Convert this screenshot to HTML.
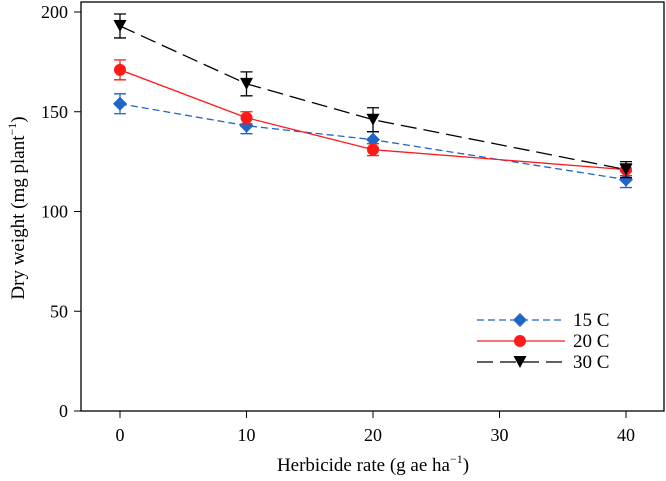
<!DOCTYPE html>
<html><head><meta charset="utf-8"><style>
body{margin:0;background:#fff}
svg text{font-family:"Liberation Serif",serif;fill:#000}
</style></head><body>
<svg id="c" width="666" height="476"></svg>
<script>
const xValues=[0,10,20,40];
const series15=[154,143,136,116];
const err15=[5,4,4,4];
const series20=[171,147,131,121];
const err20=[5,3,3,3];
const series30=[193,164,146,121];
const err30=[6,6,6,4];
const xTicks=[0,10,20,30,40];
const yTicks=[0,50,100,150,200];
const seriesNames=["15 C","20 C","30 C"];

const svg=document.getElementById('c');
const NS='http://www.w3.org/2000/svg';
function X(v){return 120+v*12.65;}
function Y(v){return 411-v*1.995;}
function mk(tag,attrs,parent){const e=document.createElementNS(NS,tag);for(const k in attrs)e.setAttribute(k,attrs[k]);(parent||svg).appendChild(e);return e;}

const frame=mk('rect',{x:81,y:2,width:583,height:409,fill:'none',stroke:'#000','stroke-width':1.3});



xTicks.forEach(t=>{
  const l=mk('line',{x1:X(t),x2:X(t),y1:411,y2:418,stroke:'#000'});
  
  
  const tx=mk('text',{x:X(t),y:441,'text-anchor':'middle','font-size':18});
  tx.textContent=t;
  
  
});
yTicks.forEach(t=>{
  const l=mk('line',{x1:74,x2:81,y1:Y(t),y2:Y(t),stroke:'#000'});
  
  
  const tx=mk('text',{x:68,y:Y(t)+6,'text-anchor':'end','font-size':18});
  tx.textContent=t;
  
  
});
const xt=mk('text',{x:373,y:471,'text-anchor':'middle','font-size':19});
xt.innerHTML='Herbicide rate (g ae ha<tspan dy="-8" font-size="12">−1</tspan><tspan dy="8">)</tspan>';


const yt=mk('text',{x:0,y:0,'text-anchor':'middle','font-size':19,transform:'translate(24,208) rotate(-90)'});
yt.innerHTML='Dry weight (mg plant<tspan dy="-8" font-size="12">−1</tspan><tspan dy="8">)</tspan>';



function marker(type,cx,cy,color,g){
  if(type==='d') return mk('polygon',{points:`${cx},${cy-7} ${cx+7},${cy} ${cx},${cy+7} ${cx-7},${cy}`,fill:color},g);
  if(type==='o') return mk('circle',{cx:cx,cy:cy,r:6,fill:color},g);
  return mk('polygon',{points:`${cx-6.5},${cy-6} ${cx+6.5},${cy-6} ${cx},${cy+6}`,fill:color},g);
}
const defs=[
 {vals:series15,err:err15,color:'#1f66c7',dash:'7,4',m:'d',name:'series-15c'},
 {vals:series20,err:err20,color:'#ff1a1a',dash:'',m:'o',name:'series-20c'},
 {vals:series30,err:err30,color:'#000',dash:'16,7',m:'v',name:'series-30c'}
];
defs.forEach((s,si)=>{
  const g=mk('g',{});
  
  
  const pts=xValues.map((x,i)=>X(x)+','+Y(s.vals[i])).join(' ');
  mk('polyline',{points:pts,fill:'none',stroke:s.color,'stroke-width':1.3,'stroke-dasharray':s.dash},g);
  xValues.forEach((x,i)=>{
    const cx=X(x),y1=Y(s.vals[i]+s.err[i]),y2=Y(s.vals[i]-s.err[i]);
    const eb=mk('path',{d:`M${cx},${y1}V${y2}M${cx-6},${y1}H${cx+6}M${cx-6},${y2}H${cx+6}`,stroke:s.color,'stroke-width':1.3,fill:'none'},g);
    
    
    const m=marker(s.m,cx,Y(s.vals[i]),s.color,g);
    
    
  });
  const ly=320+si*21;
  const lg=mk('g',{},g);
  
  
  mk('line',{x1:477,x2:565,y1:ly,y2:ly,stroke:s.color,'stroke-width':1.3,'stroke-dasharray':s.dash},lg);
  marker(s.m,520,ly,s.color,lg);
  const t=mk('text',{x:573,y:ly+6,'font-size':19},lg);
  t.textContent=seriesNames[si];
});
</script>
</body></html>
